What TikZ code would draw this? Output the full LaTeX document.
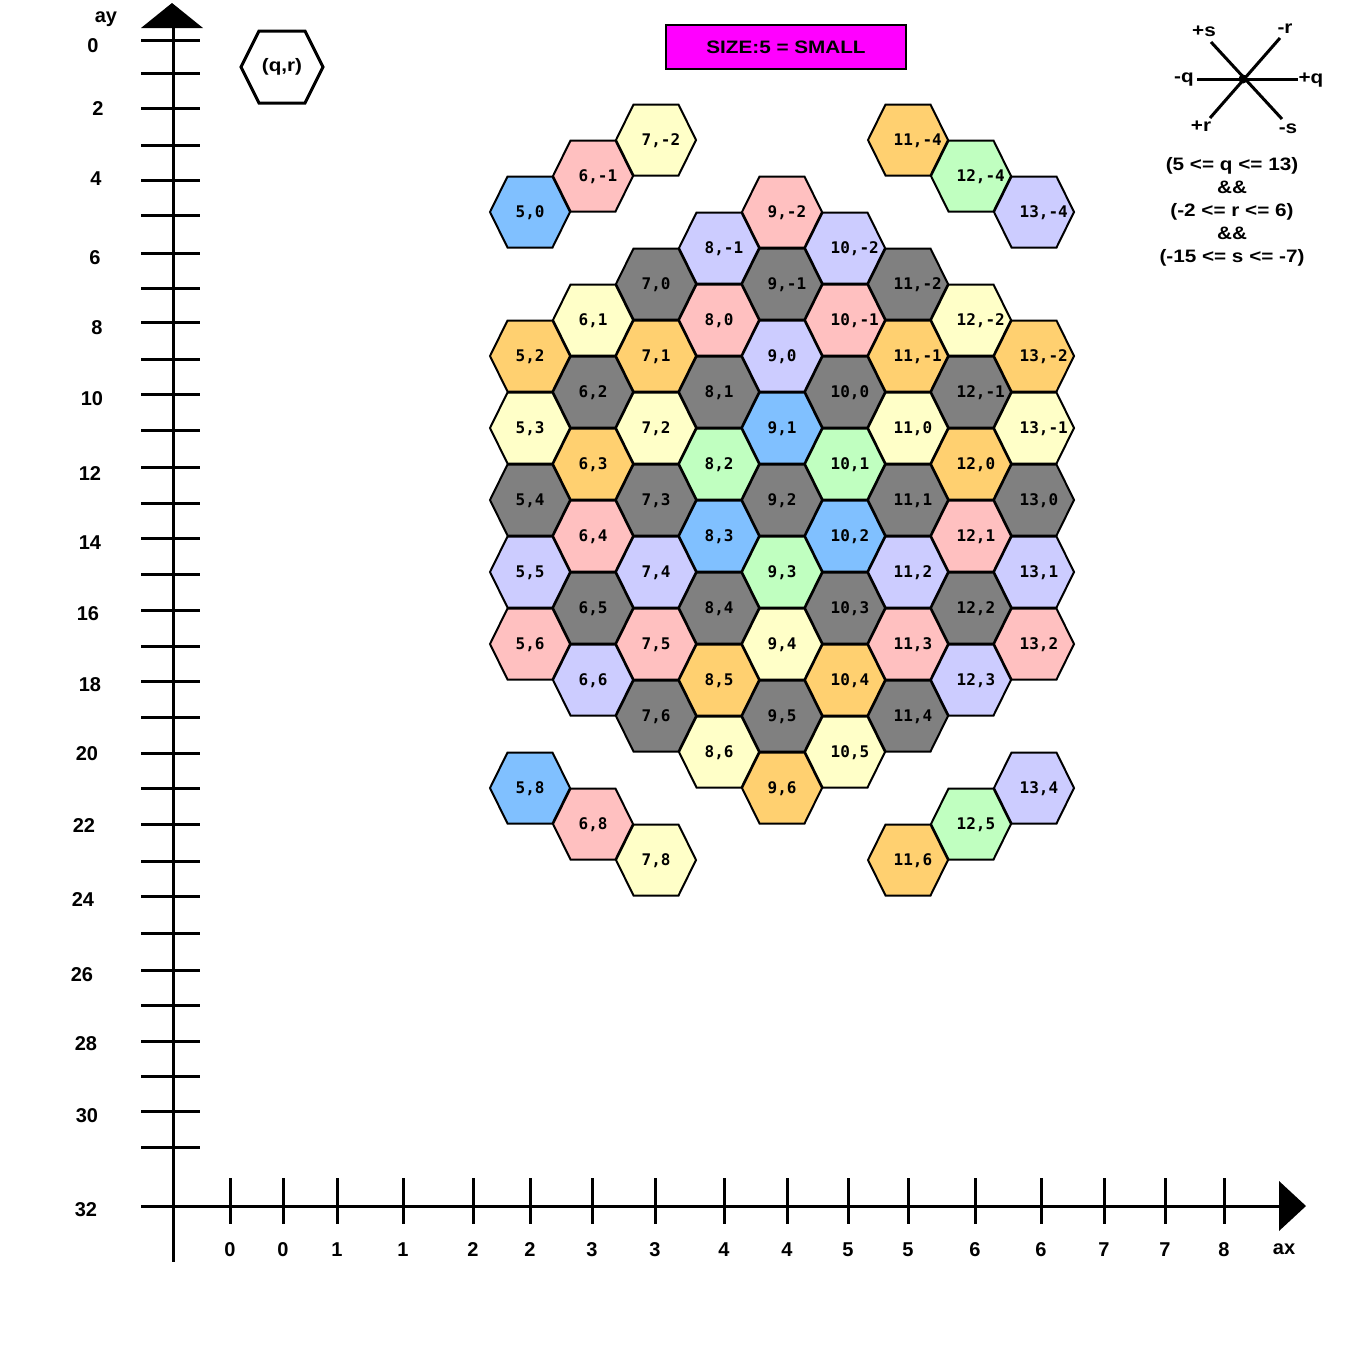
\documentclass[tikz,border=0pt]{standalone}
\usepackage{fontspec}
\newfontfamily\lblfont{Liberation Sans}[FakeStretch=1.15]
\newfontfamily\axfont{Liberation Sans}
\newfontfamily\hexfont{DejaVu Sans Mono}

\definecolor{hexyel}{HTML}{FFFFC8}
\definecolor{hexpnk}{HTML}{FFC0C0}
\definecolor{hexblu}{HTML}{80C0FF}
\definecolor{hexlav}{HTML}{CCCCFF}
\definecolor{hexgrn}{HTML}{C0FFC0}
\definecolor{hexorg}{HTML}{FFD070}
\definecolor{hexgry}{HTML}{808080}
\definecolor{sizebg}{HTML}{FF00FF}

\begin{document}
\begin{tikzpicture}[x=1pt, y=-1pt,
    hexcell/.style={draw=black, line width=2pt},
    hexlabel/.style={anchor=base west, inner sep=0pt, font=\hexfont\bfseries\fontsize{16}{17}\selectfont},
    axlabel/.style={inner sep=0pt, font=\axfont\bfseries\fontsize{20}{22}\selectfont},
    infotext/.style={inner sep=0pt, align=center, font=\lblfont\bfseries\fontsize{18}{23}\selectfont},
    axline/.style={line width=3pt}]
\useasboundingbox (0,0) rectangle (1345,1345);

% Axes:
\coordinate (ytop) at (173,28);
\coordinate (ybot) at (173,1262);
\coordinate (xleft) at (141,1206);
\coordinate (xright) at (1280,1206);
\draw[axline] (ytop) -- (ybot);
\fill (141,28) -- (172,3) -- (203,28) -- cycle;
\draw[axline] (xleft) -- (xright);
\fill (1279,1181) -- (1306,1206) -- (1279,1231) -- cycle;
\node[axlabel] (ay) at (106,19) {ay};
\node[axlabel] (ax) at (1284,1249) {ax};

\foreach \ty in {40,73,108,145,180,215,253,288,322,359,394,430,467,503,538,574,
                 610,646,681,717,753,788,824,861,896,933,970,1005,1041,1076,1111,1147}
    \draw[axline] (141,\ty) -- (200,\ty);
\foreach \v/\lx/\ly in {0/93/46, 2/98/109, 4/96/179, 6/95/258, 8/97/328, 10/92/399,
                       12/90/474, 14/90/543, 16/88/614, 18/90/685, 20/87/754, 22/84/826,
                       24/83/900, 26/82/975, 28/86/1044, 30/87/1116, 32/86/1210}
    \node[axlabel] (ylab\v) at (\lx,\ly) {\v};

\foreach \tx/\v [count=\n] in {230/0, 283/0, 337/1, 403/1, 473/2, 530/2, 592/3, 655/3, 724/4,
                              787/4, 848/5, 908/5, 975/6, 1041/6, 1104/7, 1165/7, 1224/8} {
    \draw[axline] (\tx,1178) -- (\tx,1224);
    \node[axlabel] (xlab\n) at (\tx,1250) {\v};
}

% Legend cell, size box, directions and limits:
\draw[line width=3pt] (241,67) -- (259,31) -- (305,31) -- (323,67) -- (305,103) -- (259,103) -- cycle;
\node[infotext] (qrlabel) at (282,67) {(q,r)};

\node[infotext, draw, line width=2.5pt, fill=sizebg, minimum width=240pt, minimum height=44pt]
    (sizebox) at (786,47) {SIZE:5 = SMALL};

\coordinate (cc) at (1243,79);
\draw[axline] (1197,79) -- (1298,79);
\draw[axline] (1211,42) -- (1282,119);
\draw[axline] (1280,38) -- (1210,118);
\fill (cc) circle (4.5);
\node[infotext] (ps) at (1204,31) {+s};
\node[infotext] (mr) at (1285,29) {-r};
\node[infotext] (mq) at (1184,80) {-q};
\node[infotext] (pq) at (1311,80) {+q};
\node[infotext] (pr) at (1201,126) {+r};
\node[infotext] (ms) at (1288,129) {-s};

\node[infotext] (limits) at (1232,212)
    {(5 <= q <= 13)\\\&\&\\(-2 <= r <= 6)\\\&\&\\(-15 <= s <= -7)};

% Hex cells q/r/colour:
\foreach \qq/\rr/\hc in {5/0/hexblu, 6/-1/hexpnk, 7/-2/hexyel,
        11/-4/hexorg, 12/-4/hexgrn, 13/-4/hexlav,
        9/-2/hexpnk, 8/-1/hexlav, 10/-2/hexlav,
        7/0/hexgry, 9/-1/hexgry, 11/-2/hexgry,
        6/1/hexyel, 8/0/hexpnk, 10/-1/hexpnk, 12/-2/hexyel,
        5/2/hexorg, 7/1/hexorg, 9/0/hexlav, 11/-1/hexorg, 13/-2/hexorg,
        6/2/hexgry, 8/1/hexgry, 10/0/hexgry, 12/-1/hexgry,
        5/3/hexyel, 7/2/hexyel, 9/1/hexblu, 11/0/hexyel, 13/-1/hexyel,
        6/3/hexorg, 8/2/hexgrn, 10/1/hexgrn, 12/0/hexorg,
        5/4/hexgry, 7/3/hexgry, 9/2/hexgry, 11/1/hexgry, 13/0/hexgry,
        6/4/hexpnk, 8/3/hexblu, 10/2/hexblu, 12/1/hexpnk,
        5/5/hexlav, 7/4/hexlav, 9/3/hexgrn, 11/2/hexlav, 13/1/hexlav,
        6/5/hexgry, 8/4/hexgry, 10/3/hexgry, 12/2/hexgry,
        5/6/hexpnk, 7/5/hexpnk, 9/4/hexyel, 11/3/hexpnk, 13/2/hexpnk,
        6/6/hexlav, 8/5/hexorg, 10/4/hexorg, 12/3/hexlav,
        7/6/hexgry, 9/5/hexgry, 11/4/hexgry,
        8/6/hexyel, 10/5/hexyel,
        9/6/hexorg,
        5/8/hexblu, 6/8/hexpnk, 7/8/hexyel,
        13/4/hexlav, 12/5/hexgrn, 11/6/hexorg} {
    \pgfmathsetmacro\hx{530+63*(\qq-5)}
    \pgfmathsetmacro\hy{212+72*\rr+36*(\qq-5)}
    \draw[hexcell, fill=\hc] (\hx-40,\hy) -- ++(17.5,-35.5) -- ++(45,0) -- ++(17.5,35.5)
        -- ++(-17.5,35.5) -- ++(-45,0) -- cycle;
    \node[hexlabel] (h\qq x\rr) at (\hx-14.5,\hy+5.8) {\qq,\rr};
}
\end{tikzpicture}
\end{document}
